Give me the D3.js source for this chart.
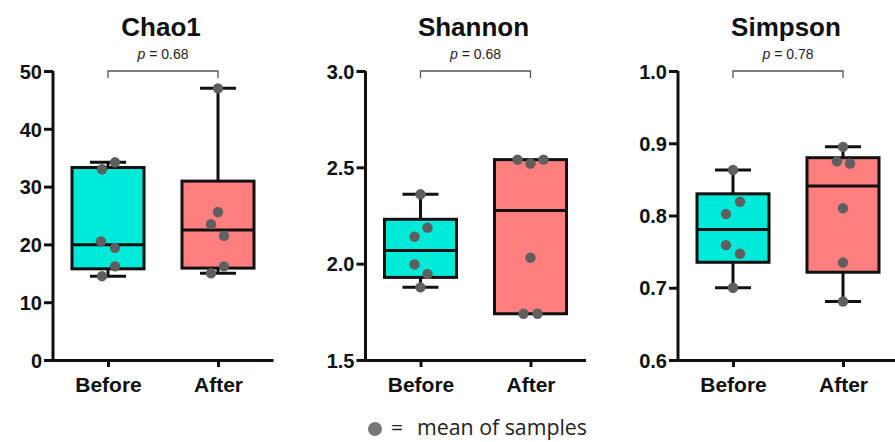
<!DOCTYPE html>
<html>
<head>
<meta charset="utf-8">
<script src="https://cdn.jsdelivr.net/npm/d3@7"></script>
<style>
  body { margin: 0; background: #fff; }
  svg { display: block; }
</style>
</head>
<body>
<script>
var w = 895;
var h = 442;

// ---- data ----
var groups = ["Before", "After"];
var metrics = ["Chao1", "Shannon", "Simpson"];
var pValues = ["0.68", "0.68", "0.78"];

var chao1Before = [33.0, 34.2, 20.5, 19.4, 16.2, 14.5];
var chao1After = [47.0, 25.6, 23.5, 21.5, 16.2, 15.0];
var shannonBefore = [2.36, 2.187, 2.14, 1.996, 1.946, 1.877];
var shannonAfter = [2.54, 2.52, 2.54, 2.031, 1.74, 1.74];
var simpsonBefore = [0.863, 0.819, 0.802, 0.759, 0.747, 0.700];
var simpsonAfter = [0.895, 0.875, 0.872, 0.810, 0.735, 0.681];

var chao1Ticks = [0, 10, 20, 30, 40, 50];
var shannonTicks = [1.5, 2.0, 2.5, 3.0];
var simpsonTicks = [0.6, 0.7, 0.8, 0.9, 1.0];

// horizontal jitter of the dots (px), same order as values
var jitter = [
  [[-6, 7, -7, 7, 7, -6], [0, 0, -7, 6, 6, -7]],
  [[0, 7, -6, -6, 7, 0], [-13, 0, 13, 0, -7, 7]],
  [[0, 7, -7, -7, 7, 0], [0, -6, 7, 0, 0, 0]]
];

var legendLabel = "mean of samples";

var panels = [
  { name: metrics[0], p: pValues[0], data: [chao1Before, chao1After], ticks: chao1Ticks, fmt: d3.format("d") },
  { name: metrics[1], p: pValues[1], data: [shannonBefore, shannonAfter], ticks: shannonTicks, fmt: d3.format(".1f") },
  { name: metrics[2], p: pValues[2], data: [simpsonBefore, simpsonAfter], ticks: simpsonTicks, fmt: d3.format(".1f") }
];

var fills = ["#00ead9", "#ff7f7f"];
var dotColor = "#5f5f5f";

// quartile as GraphPad does it: position p*(n+1)
function quart(arr, p) {
  var s = arr.slice().sort(d3.ascending);
  var n = s.length;
  var pos = p * (n + 1);
  if (pos <= 1) return s[0];
  if (pos >= n) return s[n - 1];
  var lo = Math.floor(pos);
  return s[lo - 1] + (pos - lo) * (s[lo] - s[lo - 1]);
}

var svg = d3.select("body").append("svg")
  .attr("width", w)
  .attr("height", h);

var yTop = 71, yBottom = 360;
var axisW = 220;
var lefts = [53, 365.5, 678];
var boxW = 72, capW = 36;

panels.forEach(function(pn, i) {
  var g = svg.append("g").attr("transform", "translate(" + lefts[i] + ",0)");

  var x = d3.scalePoint().domain(groups).range([0, axisW]).padding(0.5);
  var y = d3.scaleLinear().domain(d3.extent(pn.ticks)).range([yBottom, yTop]);

  // axes
  var yAxis = g.append("g").attr("class", "axis")
    .call(d3.axisLeft(y).tickValues(pn.ticks).tickFormat(pn.fmt).tickSize(9).tickPadding(2).tickSizeOuter(0));
  var xAxis = g.append("g").attr("class", "axis")
    .attr("transform", "translate(0," + yBottom + ")")
    .call(d3.axisBottom(x).tickSize(7).tickPadding(6).tickSizeOuter(0));

  [yAxis, xAxis].forEach(function(a) {
    a.select(".domain").attr("stroke", "#111").attr("stroke-width", 3);
    a.selectAll(".tick line").attr("stroke", "#111").attr("stroke-width", 3);
    a.selectAll("text")
      .attr("fill", "#111")
      .attr("font-family", "Liberation Sans, Arial, sans-serif")
      .attr("font-weight", "bold");
  });
  yAxis.selectAll("text").attr("font-size", 20).attr("dy", "0.36em");
  xAxis.selectAll("text").attr("font-size", 21).attr("dy", "0.9em");
  // extend the y domain line so the corner closes
  yAxis.select(".domain").attr("d", "M0," + (yBottom + 1.5) + "V" + yTop);

  // boxes
  pn.data.forEach(function(vals, j) {
    var cx = x(groups[j]);
    var q1 = quart(vals, 0.25), med = quart(vals, 0.5), q3 = quart(vals, 0.75);
    var mn = d3.min(vals), mx = d3.max(vals);
    var bg = g.append("g");

    bg.append("line")
      .attr("x1", cx).attr("x2", cx).attr("y1", y(mx)).attr("y2", y(q3))
      .attr("stroke", "#111").attr("stroke-width", 3);
    bg.append("line")
      .attr("x1", cx).attr("x2", cx).attr("y1", y(q1)).attr("y2", y(mn))
      .attr("stroke", "#111").attr("stroke-width", 3);
    [mn, mx].forEach(function(v) {
      if (v === q1 || v === q3) return;
      bg.append("line")
        .attr("x1", cx - capW / 2).attr("x2", cx + capW / 2)
        .attr("y1", y(v)).attr("y2", y(v))
        .attr("stroke", "#111").attr("stroke-width", 3);
    });
    bg.append("rect")
      .attr("x", cx - boxW / 2).attr("width", boxW)
      .attr("y", y(q3)).attr("height", y(q1) - y(q3))
      .attr("fill", fills[j])
      .attr("stroke", "#111").attr("stroke-width", 3);
    bg.append("line")
      .attr("x1", cx - boxW / 2).attr("x2", cx + boxW / 2)
      .attr("y1", y(med)).attr("y2", y(med))
      .attr("stroke", "#111").attr("stroke-width", 3);

    bg.selectAll("circle")
      .data(vals)
      .enter()
      .append("circle")
      .attr("cx", function(d, k) { return cx + jitter[i][j][k]; })
      .attr("cy", function(d) { return y(d); })
      .attr("r", 5.2)
      .attr("fill", dotColor);
  });

  // title
  g.append("text")
    .attr("x", axisW / 2 - 2).attr("y", 36)
    .attr("text-anchor", "middle")
    .attr("font-family", "Liberation Sans, Arial, sans-serif")
    .attr("font-weight", "bold")
    .attr("font-size", 26)
    .attr("fill", "#111")
    .text(pn.name);

  // significance bracket
  var bx1 = x(groups[0]), bx2 = x(groups[1]);
  g.append("path")
    .attr("d", "M" + bx1 + "," + (yTop + 7) + "V" + yTop + "H" + bx2 + "V" + (yTop + 7))
    .attr("fill", "none")
    .attr("stroke", "#555")
    .attr("stroke-width", 1.3);
  var pt = g.append("text")
    .attr("x", (bx1 + bx2) / 2).attr("y", 59)
    .attr("text-anchor", "middle")
    .attr("font-family", "Liberation Sans, Arial, sans-serif")
    .attr("font-size", 14)
    .attr("fill", "#222");
  pt.append("tspan").attr("font-style", "italic").text("p");
  pt.append("tspan").text(" = " + pn.p);
});

// legend
svg.append("circle")
  .attr("cx", 375).attr("cy", 429).attr("r", 7)
  .attr("fill", "#777");
svg.append("text")
  .attr("x", 391).attr("y", 435)
  .attr("font-family", "Open Sans, sans-serif")
  .attr("font-size", 21)
  .attr("fill", "#222")
  .text("=");
svg.append("text")
  .attr("x", 417).attr("y", 435)
  .attr("font-family", "Open Sans, sans-serif")
  .attr("font-size", 21)
  .attr("fill", "#222")
  .attr("textLength", 170)
  .attr("lengthAdjust", "spacingAndGlyphs")
  .text(legendLabel);
</script>
</body>
</html>
